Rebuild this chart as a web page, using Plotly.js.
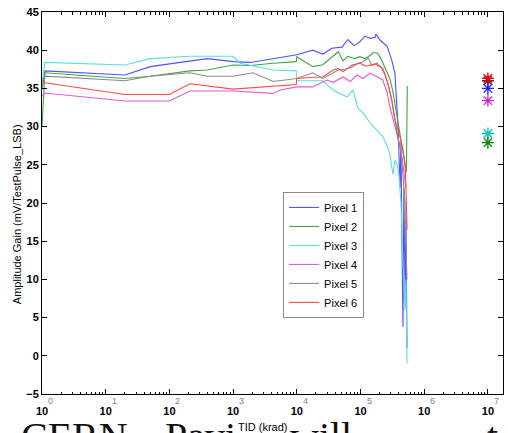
<!DOCTYPE html>
<html>
<head>
<meta charset="utf-8">
<script src="https://cdn.plot.ly/plotly-3.0.1.min.js"></script>
<style>html,body{margin:0;padding:0;background:#fff;}#chart{width:508px;height:433px;}</style>
</head>
<body>
<div id="chart"></div>
<script>
// ---- data (TID in krad, gain in mV/TestPulse_LSB) ----
const seriesNames = ["Pixel 1", "Pixel 2", "Pixel 3", "Pixel 4", "Pixel 5", "Pixel 6"];

const pixel1Dose = [1, 1.11, 20, 50, 390, 1000, 1860, 10000, 17800, 25700, 35500, 51300, 63100, 79400, 97700, 117000, 141000, 170000, 174000, 204000, 263000, 288000, 309000, 347000, 372000, 389000, 417000, 432000, 447000, 465000, 479000, 501000, 518000, 537000];
const pixel1Gain = [35.0, 37.3, 36.75, 37.85, 38.9, 38.5, 38.4, 39.4, 40.0, 39.5, 40.25, 40.4, 41.4, 40.6, 41.1, 41.85, 41.55, 41.7, 42.1, 41.3, 40.5, 39.6, 38.7, 37.0, 33.5, 30.0, 22.0, 28.0, 15.0, 3.8, 22.0, 8.0, 18.0, 1.0];

const pixel2Dose = [1, 1.11, 20, 50, 210, 390, 1000, 1860, 4270, 9800, 10000, 17800, 25700, 44700, 53100, 63100, 81300, 97700, 117000, 141000, 158000, 186000, 209000, 243000, 288000, 324000, 363000, 398000, 447000, 479000, 518000, 525000, 543000];
const pixel2Gain = [30.0, 37.05, 36.3, 36.6, 37.3, 37.4, 38.06, 38.0, 38.3, 38.5, 39.15, 37.85, 38.1, 39.8, 38.6, 39.2, 38.9, 39.15, 38.9, 39.3, 39.7, 39.6, 38.9, 37.6, 36.3, 34.5, 32.0, 30.0, 27.5, 26.0, 24.5, 24.0, 35.3];

const pixel3Dose = [1, 1.11, 20, 50, 210, 1000, 1290, 4270, 9800, 10000, 25700, 30900, 37200, 47900, 61700, 75900, 91200, 110000, 141000, 182000, 224000, 263000, 288000, 309000, 324000, 347000, 372000, 398000, 432000, 465000, 501000, 518000, 537000];
const pixel3Gain = [35.5, 38.4, 38.06, 38.9, 39.2, 39.2, 38.3, 37.4, 37.3, 36.0, 36.0, 35.45, 34.8, 34.3, 33.9, 34.8, 32.4, 31.8, 30.5, 29.5, 28.7, 27.4, 26.5, 24.8, 23.7, 25.6, 25.2, 24.0, 20.0, 12.0, 6.0, 10.0, -1.0];

const pixel4Dose = [1, 1.11, 20, 100, 210, 1000, 4270, 5500, 10000, 17800, 29500, 37200, 53100, 69200, 88100, 110000, 141000, 182000, 224000, 263000, 288000, 324000, 363000, 398000, 447000, 479000, 518000];
const pixel4Gain = [34.0, 34.4, 33.35, 33.35, 34.65, 34.65, 34.35, 34.8, 35.2, 35.2, 36.1, 35.8, 36.5, 35.9, 36.75, 36.3, 37.0, 36.5, 36.1, 34.4, 32.6, 31.0, 29.5, 28.0, 26.0, 24.0, 22.0];

const pixel5Dose = [1, 1.11, 20, 50, 210, 390, 1000, 2040, 4270, 10000, 17800, 25700, 44700, 57500, 74100, 91200, 110000, 132000, 151000, 182000, 209000, 243000, 282000, 309000, 347000, 389000, 432000, 465000, 501000, 518000, 537000];
const pixel5Gain = [35.0, 36.6, 36.0, 36.6, 37.05, 36.6, 36.6, 37.05, 35.9, 36.3, 37.05, 36.3, 37.4, 37.5, 37.8, 38.3, 38.5, 39.0, 38.0, 38.3, 37.8, 36.8, 35.0, 33.5, 31.0, 28.5, 27.0, 24.0, 20.0, 14.0, 10.0];

const pixel6Dose = [1, 1.11, 20, 100, 210, 1000, 9800, 10000, 17800, 25700, 37200, 44700, 53100, 74100, 97700, 123000, 170000, 204000, 224000, 269000, 309000, 347000, 417000, 465000, 501000, 518000, 537000];
const pixel6Gain = [36.0, 35.75, 34.2, 34.2, 35.6, 34.9, 35.5, 36.3, 36.45, 36.5, 37.4, 37.6, 37.2, 38.06, 38.3, 37.9, 38.2, 37.8, 37.6, 35.7, 33.5, 30.9, 28.7, 27.0, 24.8, 22.1, 16.5];

// post-anneal values, plotted at 10^7 krad (order: Pixel 5, 3, 2, 4, 1, 6)
const finalDose = [1e7, 1e7, 1e7, 1e7, 1e7, 1e7];
const finalGain = [36.0, 29.1, 27.9, 33.4, 35.0, 36.3];

const xTickVals = [1, 10, 100, 1000, 10000, 100000, 1000000, 10000000];
const xTickText = ["10", "10", "10", "10", "10", "10", "10", "10"];
const xTickExp = ["0", "1", "2", "3", "4", "5", "6", "7"];

// ---- styles ----
const lineColors = ["#5050ff", "#3fa83f", "#5cdede", "#de5ade", "#8c8c8c", "#ff4848"];
const finalColors = ["#333333", "#00c0c0", "#008000", "#cc22cc", "#1a1aff", "#ee0000"];
const FONT = "Liberation Sans, Arial, Helvetica, sans-serif";
const SERIF = "Liberation Serif, serif";

const doses = [pixel1Dose, pixel2Dose, pixel3Dose, pixel4Dose, pixel5Dose, pixel6Dose];
const gains = [pixel1Gain, pixel2Gain, pixel3Gain, pixel4Gain, pixel5Gain, pixel6Gain];

const traces = seriesNames.map((n, i) => ({
  type: "scatter", mode: "lines", name: n,
  x: doses[i], y: gains[i],
  line: {color: lineColors[i], width: 1.1}
}));
traces.push({
  type: "scatter", mode: "markers", showlegend: false,
  x: finalDose, y: finalGain,
  marker: {symbol: "asterisk-open", size: 10, color: finalColors, line: {color: finalColors, width: 1.3}}
});

const annotations = [];
// slide text behind the figure (cut off by the window) — drawn first, underneath
const slideY = -0.047;
annotations.push({
  xref: "paper", yref: "paper", x: -0.05, y: slideY, xanchor: "left", yanchor: "top",
  text: "CERN,", showarrow: false, font: {family: SERIF, size: 40, color: "#111"}
});
annotations.push({
  xref: "paper", yref: "paper", x: 0.262, y: slideY, xanchor: "left", yanchor: "top",
  text: "Pavia", showarrow: false, font: {family: SERIF, size: 40, color: "#111"}
});
annotations.push({
  xref: "paper", yref: "paper", x: 0.534, y: slideY, xanchor: "left", yanchor: "top",
  text: "will", showarrow: false, font: {family: SERIF, size: 40, color: "#111"}
});
annotations.push({
  xref: "paper", yref: "paper", x: 0.962, y: slideY, xanchor: "left", yanchor: "top",
  text: "t", showarrow: false, font: {family: SERIF, size: 40, color: "#111"}
});
xTickExp.forEach((e, i) => {
  annotations.push({
    xref: "x", yref: "paper", x: Math.log10(xTickVals[i]), y: 0,
    xanchor: "left", yanchor: "middle", xshift: 4, yshift: -7,
    text: e, showarrow: false, font: {family: FONT, size: 9, color: "#808080"}
  });
});
annotations.push({
  xref: "paper", yref: "paper", x: 0.479, y: 0, yanchor: "middle", xanchor: "center",
  yshift: -33, text: "TID (krad)", showarrow: false, bgcolor: "#fff",
  font: {family: FONT, size: 11, color: "#000"}
});
annotations.push({
  xref: "paper", yref: "paper", x: -0.054, y: 0.471, xanchor: "center", yanchor: "middle",
  textangle: -90, text: "Amplitude Gain (mV/TestPulse_LSB)", showarrow: false,
  font: {family: FONT, size: 11, color: "#000"}
});

const layout = {
  width: 508, height: 433,
  margin: {l: 42, r: 5, t: 12, b: 39, pad: 0},
  paper_bgcolor: "#fff", plot_bgcolor: "#fff",
  showlegend: true,
  legend: {
    x: 0.523, y: 0.529, xanchor: "left", yanchor: "top",
    bgcolor: "#fff", bordercolor: "#8a8a8a", borderwidth: 1,
    font: {family: FONT, size: 11, color: "#000"},
    itemwidth: 30, tracegroupgap: 0
  },
  xaxis: {
    type: "log", range: [0, 7.237], autorange: false,
    showgrid: false, zeroline: false,
    showline: true, linecolor: "#000", linewidth: 1, mirror: "ticks",
    ticks: "inside", ticklen: 5, tickcolor: "#000",
    tickvals: xTickVals, ticktext: xTickText,
    ticklabelstandoff: 7,
    tickfont: {family: FONT, size: 11, color: "#000", weight: "bold"},
    minor: {ticks: "inside", ticklen: 2.5, tickcolor: "#000", dtick: "D1", showgrid: false}
  },
  yaxis: {
    range: [-5, 45], autorange: false,
    showgrid: false, zeroline: false,
    showline: true, linecolor: "#000", linewidth: 1, mirror: "ticks",
    ticks: "inside", ticklen: 5, tickcolor: "#000",
    dtick: 5, tick0: 0,
    tickfont: {family: FONT, size: 11, color: "#000", weight: "bold"}
  },
  annotations: annotations
};

Plotly.newPlot("chart", traces, layout, {staticPlot: true, displayModeBar: false});
</script>
</body>
</html>
